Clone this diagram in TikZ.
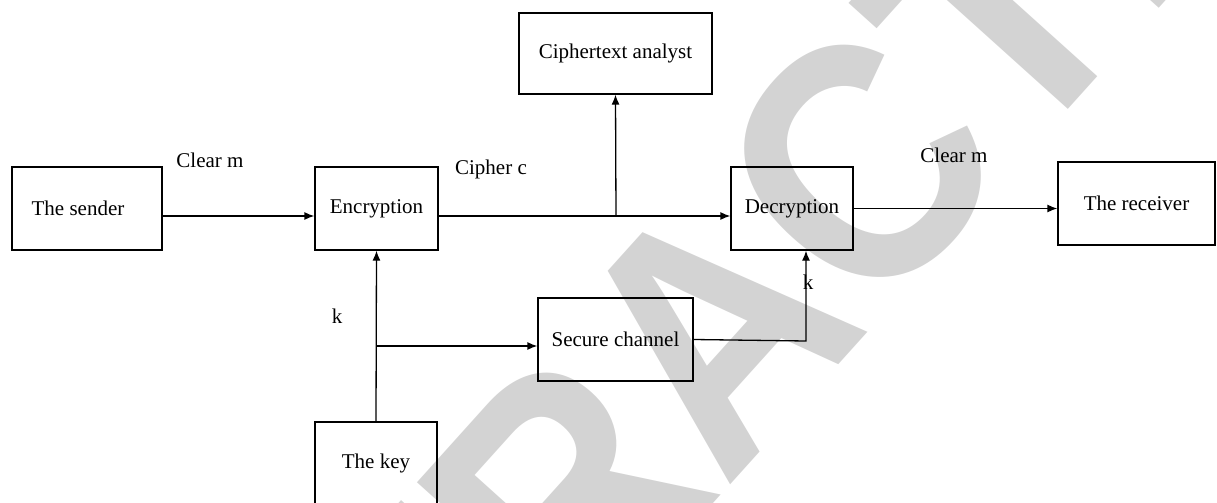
\documentclass[tikz,border=0pt]{standalone}
\usepackage{fontspec}
\usepackage{graphicx}
\setmainfont{Liberation Serif}
\newfontfamily\wmfont{Liberation Sans}
\usetikzlibrary{arrows.meta,positioning}
\definecolor{wmgray}{RGB}{211,211,211}

\begin{document}
\begin{tikzpicture}[
    x=0.5pt, y=-0.5pt,
    every node/.style={
        font=\fontsize{10.5}{12}\selectfont,
        inner sep=0pt
    },
    box/.style={
        draw, line width=0.65pt,
        minimum width=#1,
        minimum height=41.5pt,
        align=center
    },
    arr/.style={
        line width=0.65pt,
        -{Latex[length=5pt,width=4pt]}
    },
    wm/.style={
        text=wmgray,
        font=\wmfont\bfseries\fontsize{170}{170}\selectfont
    }
]
\useasboundingbox (0,0) rectangle (1217,503);
\node[wm, rotate=48] (stamp) at (712,330) {\scalebox{0.9}[1]{RETRACTED}};

\node[box=75pt]   (sender)  at (87,208.5)   {The sender\hspace*{9pt}};
\node[box=61.5pt] (enc)     at (376.5,208.5) {Encryption};
\node[box=96.5pt, minimum height=40.5pt] (analyst) at (615.5,53.5) {Ciphertext analyst};
\node[box=61pt]   (dec)     at (792,208.5)  {Decryption};
\node[box=78.5pt] (recv)    at (1136.5,203.5) {The receiver};
\node[box=77.5pt] (chan)    at (615.5,339.5) {Secure channel};
\node[box=61pt]   (key)     at (376,463.5)  {The key};

\coordinate (tap)   at (616,216);
\coordinate (ksplit) at (376,346);
\coordinate (kturn) at (806,341);

\draw[arr] ([yshift=-3.75pt]sender.east) -- ([yshift=-3.75pt]enc.west);
\draw[arr] ([yshift=-3.75pt]enc.east) -- ([yshift=-3.75pt]dec.west);
\draw[arr] (tap) -- (analyst.south);
\draw[arr] (dec.east) -- (dec.east -| recv.west);
\draw[arr] (key.north) -- (enc.south);
\draw[arr] (ksplit) -- (ksplit -| chan.west);
\draw[arr] (chan.east) -- (kturn) -- (kturn |- dec.south);

\node (clr1) at (210,160) {Clear m};
\node (ciph) at (491,169) {Cipher c};
\node (clr2) at (954,155) {Clear m};
\node (k1)   at (337,316) {k};
\node (k2)   at (808,282) {k};
\end{tikzpicture}
\end{document}
